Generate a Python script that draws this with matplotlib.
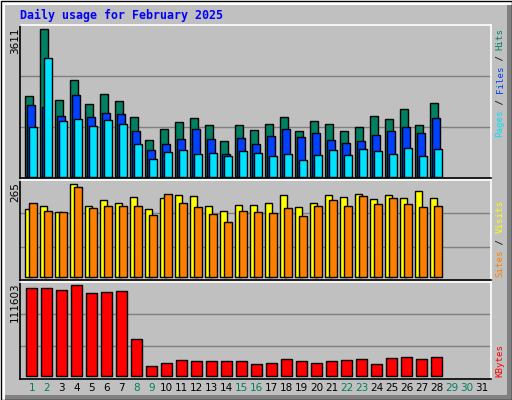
import matplotlib
matplotlib.use("Agg")
import numpy as np
import matplotlib.pyplot as plt
from matplotlib.patches import Rectangle

days = np.arange(1, 29)
hits = [1960, 3611, 1872, 2362, 1774, 2019, 1847, 1455, 892, 1161, 1333, 1431, 1259, 867,
        1259, 1137, 1284, 1455, 1112, 1357, 1284, 1112, 1210, 1480, 1406, 1651, 1259, 1798]
files = [1740, 1700, 1480, 1994, 1455, 1553, 1529, 1112, 647, 794, 916, 1161, 916, 549,
         941, 794, 990, 1161, 965, 1063, 892, 818, 867, 1014, 1112, 1210, 1063, 1431]
pages = [1210, 2901, 1357, 1406, 1235, 1382, 1284, 794, 426, 598, 647, 549, 573, 500,
         622, 573, 500, 549, 402, 524, 647, 524, 671, 622, 549, 696, 500, 671]
visits = [193, 204, 187, 265, 202, 219, 213, 230, 193, 225, 236, 233, 202, 190,
          207, 207, 213, 236, 199, 213, 236, 230, 239, 222, 236, 225, 245, 225]
sites = [213, 190, 187, 259, 196, 204, 204, 202, 176, 239, 213, 199, 181, 158,
         190, 187, 184, 196, 173, 202, 219, 202, 233, 210, 225, 210, 199, 202]
kbytes = [107910, 107910, 105460, 111603, 101780, 103000, 104230, 45370, 11040, 15940,
          19620, 18390, 17170, 17170, 18390, 14710, 15940, 20840, 17170, 15940,
          17170, 19620, 20840, 14710, 22070, 23300, 20840, 23300]
weekend = [1, 2, 8, 9, 15, 16, 22, 23, 29, 30]

W, H = 512, 400
fig = plt.figure(figsize=(W / 100, H / 100), dpi=100)
fig.patch.set_facecolor("white")

def box(x, y, w, h, z=-5, **kw):
    fig.patches.append(Rectangle((x / W, 1 - (y + h) / H), w / W, h / H,
                                 transform=fig.transFigure, zorder=z, **kw))

box(5, 5, 502, 390, facecolor="#C0C0C0", edgecolor="none")
box(507, 5, 5, 395, facecolor="#808080", edgecolor="none")
box(5, 395, 507, 5, facecolor="#808080", edgecolor="none")
box(0.5, 0.5, W - 1, H - 1, z=5, facecolor="none", edgecolor="black", linewidth=1)

X0, X1 = 20, 491
xl = (0.22, 31.62)

def panel(top, bottom, gap, vmax, vpx):
    ax = fig.add_axes([X0 / W, 1 - bottom / H, (X1 - X0) / W, (bottom - top) / H])
    ax.set_facecolor("#C0C0C0")
    s = vmax / vpx
    h = bottom - top
    ax.set_ylim(-gap * s, (h - gap) * s)
    ax.set_xlim(*xl)
    for f in (1 / 3, 2 / 3):
        ax.axhline(-gap * s + f * h * s, color="#808080", lw=1, zorder=0)
    ax.set_xticks([])
    ax.set_yticks([])
    for sp in ("left", "bottom"):
        ax.spines[sp].set_color("black")
    for sp in ("top", "right"):
        ax.spines[sp].set_color("white")
    ax.spines[:].set_linewidth(1.2)
    return ax

def bars(ax, vals, left, right, color):
    ax.bar(days + (left + right) / 2, vals, width=right - left, color=color,
           edgecolor="black", linewidth=1)

ax1 = panel(25, 178, 1.5, 3611, 147.4)
bars(ax1, hits, -0.45, 0.07, "#008060")
bars(ax1, files, -0.3, 0.2, "#0040FF")
bars(ax1, pages, -0.16, 0.35, "#00E0FF")

ax2 = panel(180.5, 279.5, 3, 265, 92)
bars(ax2, visits, -0.45, 0.05, "#FFFF00")
bars(ax2, sites, -0.2, 0.33, "#FF8000")

ax3 = panel(281.5, 378.5, 3, 111603, 91)
bars(ax3, kbytes, -0.38, 0.33, "#FF0000")

def ftext(x, y, s, **kw):
    fig.text(x / W, 1 - y / H, s, **kw)

ftext(20, 15, "Daily usage for February 2025", color="#0000FF", family="DejaVu Sans Mono",
      weight="bold", size=8.4, va="center", ha="left")

for y, s in [(28, "3611"), (182, "265"), (282, "111603")]:
    ftext(15, y, s, rotation=90, va="top", ha="center", size=7.5, family="DejaVu Sans")

def vstack(x, ybottom, pieces):
    cw = 5.45
    pos = 0
    for s, c in pieces:
        ftext(x, ybottom - pos * cw, s, color=c, rotation=90, va="bottom", ha="center",
              family="DejaVu Sans Mono", size=6.6)
        pos += len(s)

vstack(500, 137, [("Pages", "#00E0FF"), (" / ", "black"), ("Files", "#0040FF"),
                  (" / ", "black"), ("Hits", "#008060")])
vstack(500, 277, [("Sites", "#FF8000"), (" / ", "black"), ("Visits", "#FFFF00")])
vstack(500, 377, [("KBytes", "#FF0000")])

for d in range(1, 32):
    px = X0 + (d - xl[0]) / (xl[1] - xl[0]) * (X1 - X0)
    ftext(px, 388, str(d), color="#008060" if d in weekend else "black",
          ha="center", va="center", size=7.5, family="DejaVu Sans")

fig.savefig("out.png", dpi=100)
